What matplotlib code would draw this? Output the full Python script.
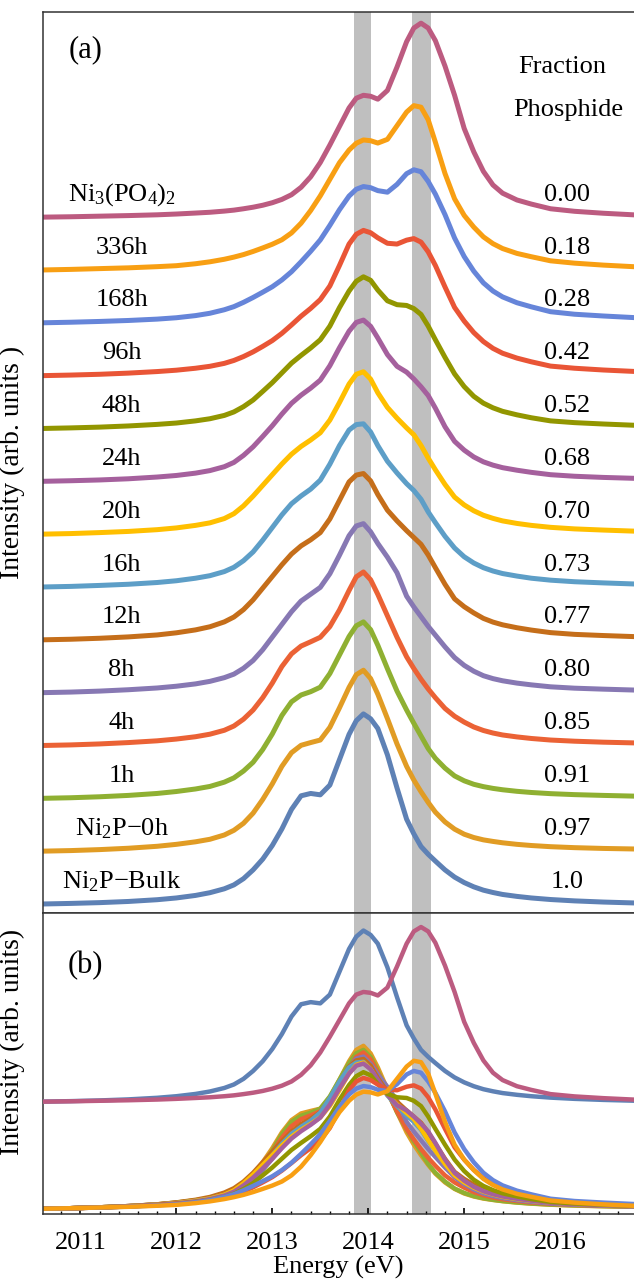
import matplotlib
matplotlib.use("Agg")
import matplotlib.pyplot as plt
from matplotlib.ticker import MultipleLocator

plt.rcParams['font.family'] = ['Liberation Serif', 'DejaVu Serif']
plt.rcParams['mathtext.fontset'] = 'custom'
plt.rcParams['mathtext.rm'] = 'Liberation Serif'

# energy grid (eV) the curves were read on
energy = [2010.6, 2010.9, 2011.2, 2011.5, 2011.8,
          2012.0, 2012.2, 2012.35, 2012.5, 2012.6, 2012.7, 2012.8, 2012.9, 2013.0, 2013.1,
          2013.2, 2013.3, 2013.4, 2013.5, 2013.6, 2013.7,
          2013.8, 2013.875, 2013.95, 2014.025, 2014.1, 2014.2, 2014.3, 2014.4, 2014.475, 2014.55,
          2014.625, 2014.7, 2014.8, 2014.9, 2015.0,
          2015.1, 2015.2, 2015.3, 2015.4, 2015.55, 2015.7,
          2015.9, 2016.15, 2016.45, 2016.8]

# intensities, scaled so the Ni3(PO4)2 peak is 1
bulk = [.005, .008, .012, .018, .027,
        .036, .049, .063, .083, .103, .135, .18, .235, .305, .39, .49, .56, .572, .565, .615, .745,
        .875, .945, .98, .955, .905, .77, .60, .44, .365, .30, .26, .225, .18, .143, .115,
        .093, .076, .064, .054, .044, .036,
        .028, .021, .015, .01]
h0 = [.005, .008, .013, .02, .03,
      .04, .053, .066, .088, .112, .148, .20, .27, .35, .44, .51, .548, .562, .575, .64, .74,
      .845, .91, .933, .89, .81, .685, .555, .44, .37, .31, .255, .205, .155, .118, .092,
      .075, .063, .055, .048, .04, .034,
      .028, .023, .019, .016]
h1 = [.005, .008, .013, .02, .03,
      .04, .053, .066, .088, .11, .145, .19, .255, .335, .43, .50, .535, .552, .575, .645, .74,
      .835, .89, .91, .87, .79, .67, .555, .458, .39, .325, .26, .21, .16, .12, .095,
      .077, .065, .056, .049, .041, .035,
      .029, .024, .02, .016]
h4 = [.005, .008, .013, .02, .029,
      .038, .05, .063, .083, .105, .14, .187, .25, .325, .41, .475, .515, .537, .56, .615, .70,
      .80, .87, .895, .855, .78, .67, .56, .46, .40, .345, .295, .25, .195, .155, .125,
      .10, .082, .069, .059, .049, .041,
      .033, .027, .022, .018]
h8 = [.005, .008, .013, .02, .029,
      .038, .05, .063, .082, .10, .13, .17, .225, .29, .355, .42, .475, .51, .545, .615, .71,
      .81, .86, .872, .83, .77, .70, .62, .50, .445, .395, .345, .30, .24, .185, .145,
      .115, .092, .077, .066, .054, .045,
      .035, .028, .023, .018]
h12 = [.005, .008, .013, .02, .03,
       .041, .056, .072, .097, .122, .16, .21, .27, .33, .39, .445, .487, .518, .555, .625, .72,
       .815, .85, .858, .82, .75, .67, .615, .565, .53, .495, .44, .375, .29, .215, .175,
       .143, .115, .096, .082, .067, .055,
       .042, .033, .027, .021]
h16 = [.005, .008, .013, .019, .028,
       .037, .05, .063, .084, .106, .14, .185, .245, .31, .375, .432, .472, .507, .553, .635, .73,
       .81, .838, .842, .80, .73, .65, .59, .535, .50, .455, .39, .335, .265, .205, .16,
       .128, .104, .087, .074, .061, .05,
       .04, .032, .026, .02]
h20 = [.005, .008, .013, .019, .028,
       .037, .05, .063, .085, .11, .15, .20, .255, .31, .365, .415, .455, .488, .525, .59, .68,
       .775, .825, .838, .80, .73, .655, .60, .55, .515, .46, .395, .335, .26, .195, .155,
       .125, .102, .086, .073, .06, .05,
       .04, .032, .026, .02]
h24 = [.005, .008, .012, .018, .027,
       .035, .047, .06, .08, .102, .138, .182, .235, .29, .35, .405, .447, .483, .524, .598, .69,
       .775, .82, .832, .80, .74, .655, .595, .565, .53, .49, .445, .38, .285, .21, .165,
       .13, .105, .088, .075, .062, .051,
       .039, .031, .025, .02]
h48 = [.005, .008, .012, .018, .026,
       .033, .044, .055, .072, .09, .117, .151, .195, .24, .29, .34, .38, .418, .46, .53, .625,
       .71, .76, .783, .765, .715, .66, .64, .636, .62, .59, .53, .46, .37, .285, .22,
       .17, .135, .111, .093, .075, .06,
       .044, .035, .028, .021]
h96 = [.005, .008, .012, .018, .026,
       .033, .043, .053, .068, .083, .103, .127, .155, .185, .222, .265, .31, .35, .395, .465, .57,
       .68, .73, .75, .738, .712, .684, .68, .70, .708, .69, .64, .57, .46, .355, .285,
       .226, .18, .145, .12, .095, .076,
       .054, .043, .034, .026]
h168 = [.005, .008, .012, .017, .024,
        .031, .042, .054, .072, .088, .11, .135, .162, .19, .225, .267, .318, .372, .43, .505, .585,
        .655, .69, .704, .698, .683, .675, .715, .77, .79, .78, .73, .665, .56, .44, .345,
        .27, .21, .168, .138, .108, .087,
        .062, .049, .04, .031]
h336 = [.005, .008, .012, .016, .022,
        .027, .037, .047, .06, .071, .084, .10, .118, .137, .16, .195, .245, .31, .385, .47, .555,
        .62, .655, .672, .668, .656, .675, .745, .815, .848, .84, .775, .66, .50, .37, .285,
        .225, .175, .14, .115, .09, .073,
        .052, .04, .03, .021]
phosphate = [.005, .007, .01, .013, .017,
             .021, .026, .03, .036, .041, .048, .056, .066, .079, .096, .12, .158, .212, .285, .375, .47,
             .565, .615, .63, .625, .61, .655, .775, .905, .975, 1.0, .975, .91, .78, .63, .46,
             .34, .24, .17, .128, .093, .072,
             .048, .035, .025, .016]

spectra = [bulk, h0, h1, h4, h8, h12, h16, h20, h24, h48, h96, h168, h336, phosphate]
labels = ["Ni$\\mathregular{_2}$P\u2212Bulk", "Ni$\\mathregular{_2}$P\u22120h", "1h", "4h", "8h", "12h",
          "16h", "20h", "24h", "48h", "96h", "168h", "336h",
          "Ni$\\mathregular{_3}$(PO$\\mathregular{_4}$)$\\mathregular{_2}$"]
fractions = ["1.0", "0.97", "0.91", "0.85", "0.80", "0.77", "0.73", "0.70", "0.68",
             "0.52", "0.42", "0.28", "0.18", "0.00"]
colors = ["#5E81B5", "#E19C24", "#8FB032", "#EB6235", "#8778B3", "#C56E1A", "#5D9EC7",
          "#FFBF00", "#A5609D", "#929600", "#E95536", "#6685D9", "#F89F13", "#BC5B80"]

bands = [(2013.85, 2014.03), (2014.46, 2014.65)]
step = 0.271

fig = plt.figure(figsize=(6.34, 12.81), dpi=100)
ax_a = fig.add_axes([0.0678, 0.2873, 0.9322, 0.7033])
ax_b = fig.add_axes([0.0678, 0.0523, 0.9322, 0.2350])

for ax in (ax_a, ax_b):
    for lo, hi in bands:
        ax.axvspan(lo, hi, color="#bfbfbf", lw=0, zorder=0)
    ax.set_xlim(2010.61, 2016.77)
    ax.spines['right'].set_visible(False)
    for s in ('left', 'top', 'bottom'):
        ax.spines[s].set_linewidth(1.1)
        ax.spines[s].set_color('#333333')
    ax.set_yticks([])

# (a) stacked spectra
for i, (spec, lab, frac, col) in enumerate(zip(spectra, labels, fractions, colors)):
    off = i * step
    ax_a.plot(energy, [v + off for v in spec], color=col, lw=3.6,
              solid_joinstyle='round', solid_capstyle='round', zorder=2)
    ax_a.text(2011.43, off + 0.12, lab, ha='center', va='center', fontsize=19)
    ax_a.text(2016.07, off + 0.12, frac, ha='center', va='center', fontsize=19)

ax_a.text(2016.02, 4.30, "Fraction", ha='center', va='center', fontsize=19)
ax_a.text(2016.08, 4.075, "Phosphide", ha='center', va='center', fontsize=19)
ax_a.text(2011.05, 4.385, "(a)", ha='center', va='center', fontsize=22)
ax_a.set_ylim(-0.041, 4.58)
ax_a.set_xticks([])
ax_a.set_ylabel("Intensity (arb. units )", fontsize=20)
ax_a.yaxis.set_label_coords(-0.03, 0.5)

# (b) overlay: end members raised, samples at the bottom
for spec, col in zip(spectra[1:-1], colors[1:-1]):
    ax_b.plot(energy, spec, color=col, lw=3.2, solid_joinstyle='round', zorder=2)
for spec, col in ((bulk, colors[0]), (phosphate, colors[-1])):
    ax_b.plot(energy, [v + 0.61 for v in spec], color=col, lw=3.2, solid_joinstyle='round', zorder=3)

ax_b.text(2011.05, 1.39, "(b)", ha='center', va='center', fontsize=22)
ax_b.set_ylim(-0.025, 1.69)
ax_b.xaxis.set_major_locator(MultipleLocator(1))
ax_b.xaxis.set_minor_locator(MultipleLocator(0.2))
ax_b.tick_params(axis='x', which='major', direction='in', length=4, width=1.2, labelsize=19, pad=13)
ax_b.tick_params(axis='x', which='minor', direction='in', length=2, width=1.0)
ax_b.set_xlabel("Energy (eV)", fontsize=19, labelpad=1)
ax_b.set_ylabel("Intensity (arb. units)", fontsize=20)
ax_b.yaxis.set_label_coords(-0.03, 0.57)

fig.savefig("out.png", dpi=100)
